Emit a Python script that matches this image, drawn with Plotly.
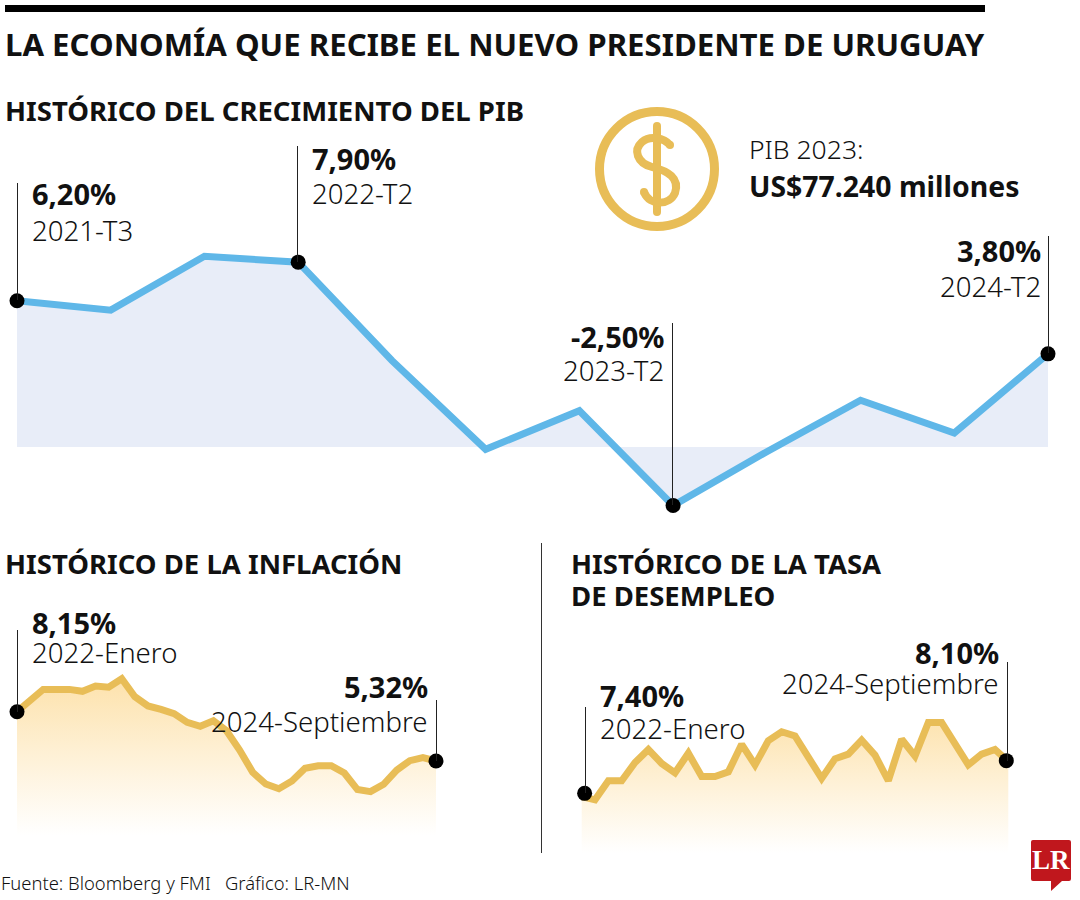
import plotly.graph_objects as go

W, H = 1080, 900
FONT = "Noto Sans"
BLUE = "#5fb7e8"
GOLD = "#e8bd57"
PIB_FILL = "#e8edf8"
INK = "#111111"
STEM = "#222222"

# ---- Data ----
pib_quarters = ["2021-T3", "2021-T4", "2022-T1", "2022-T2", "2022-T3", "2022-T4",
                "2023-T1", "2023-T2", "2023-T3", "2023-T4", "2024-T1", "2024-T2"]
pib_values = [6.25, 5.85, 8.15, 7.9, 3.7, -0.1, 1.55, -2.5, -0.2, 2.0, 0.6, 3.98]

inflation_values = [8.15, 8.82, 9.43, 9.43, 9.43, 9.32, 9.62, 9.56, 10.04, 9.01, 8.48,
                    8.28, 8.04, 7.54, 7.31, 7.63, 7.06, 5.95, 4.67, 4.0, 3.73, 4.17,
                    4.9, 5.05, 5.05, 4.63, 3.68, 3.56, 3.98, 4.8, 5.34, 5.51, 5.32]

unemployment_values = [7.33, 7.26, 7.67, 7.67, 8.06, 8.34, 8.04, 7.84, 8.26, 7.76, 7.76,
                       7.86, 8.45, 8.01, 8.53, 8.72, 8.63, 8.17, 7.72, 8.14, 8.24, 8.54,
                       8.22, 7.67, 8.56, 8.2, 8.92, 8.92, 8.46, 8.01, 8.24, 8.34, 8.08]

pib_callouts = [("6,20%", "2021-T3"), ("7,90%", "2022-T2"), ("-2,50%", "2023-T2"), ("3,80%", "2024-T2")]
inflation_callouts = [("8,15%", "2022-Enero"), ("5,32%", "2024-Septiembre")]
unemployment_callouts = [("7,40%", "2022-Enero"), ("8,10%", "2024-Septiembre")]


def fx(p):
    return p / W


def fy(p):
    return 1 - p / H


def panel_axes(px_left, px_right, idx0, idx1, px_y_ref, val_ref, px_per_unit, px_top, px_bottom):
    """Axis settings that put index idx0..idx1 at px_left..px_right across the whole page."""
    step = (px_right - px_left) / (idx1 - idx0)
    xr = [idx0 - px_left / step, idx0 + (W - px_left) / step]
    yr = [val_ref - (px_bottom - px_y_ref) / px_per_unit, val_ref + (px_y_ref - px_top) / px_per_unit]
    xa = dict(domain=[0, 1], range=xr, visible=False, fixedrange=True)
    ya = dict(domain=[fy(px_bottom), fy(px_top)], range=yr, visible=False, fixedrange=True)
    return xa, ya


def to_val(p, px_y_ref, val_ref, px_per_unit):
    return val_ref + (px_y_ref - p) / px_per_unit


GRAD = [[0, "rgba(253,228,178,0)"], [1, "rgba(253,226,172,1)"]]

fig = go.Figure()

# --- PIB panel
PIB_MAP = (447, 0.0, 23.4)
xa1, ya1 = panel_axes(17, 1048, 0, 11, *PIB_MAP, 130, 525)
fig.add_trace(go.Scatter(x=list(range(len(pib_values))), y=pib_values, mode="lines", fill="tozeroy",
                         fillcolor=PIB_FILL, line=dict(color=BLUE, width=7), xaxis="x", yaxis="y",
                         hoverinfo="skip"))
pib_idx = [pib_quarters.index(c[1]) for c in pib_callouts]
fig.add_trace(go.Scatter(x=pib_idx, y=[pib_values[i] for i in pib_idx], mode="markers",
                         marker=dict(color="#000000", size=15), cliponaxis=False, xaxis="x", yaxis="y",
                         hoverinfo="skip"))

# --- Inflation panel
INF_MAP = (711.7, 8.15, 17.42)
xa2, ya2 = panel_axes(17, 436, 0, 32, *INF_MAP, 600, 835)
fig.add_trace(go.Scatter(x=list(range(33)), y=inflation_values, mode="lines", fill="tozeroy",
                         fillgradient=dict(type="vertical", colorscale=GRAD,
                                           start=to_val(835, *INF_MAP), stop=to_val(680, *INF_MAP)),
                         line=dict(color=GOLD, width=7), xaxis="x2", yaxis="y2", hoverinfo="skip"))
fig.add_trace(go.Scatter(x=[0, 32], y=[inflation_values[0], inflation_values[32]], mode="markers",
                         marker=dict(color="#000000", size=15), cliponaxis=False, xaxis="x2", yaxis="y2",
                         hoverinfo="skip"))

# --- Unemployment panel
UNE_MAP = (760.67, 8.1, 46.67)
xa3, ya3 = panel_axes(581.7, 1008.3, 0, 32, *UNE_MAP, 640, 853)
fig.add_trace(go.Scatter(x=list(range(33)), y=unemployment_values, mode="lines", fill="tozeroy",
                         fillgradient=dict(type="vertical", colorscale=GRAD,
                                           start=to_val(853, *UNE_MAP), stop=to_val(715, *UNE_MAP)),
                         line=dict(color=GOLD, width=7), xaxis="x3", yaxis="y3", hoverinfo="skip"))
fig.add_trace(go.Scatter(x=[0.22, 31.85], y=[7.4, 8.1], mode="markers",
                         marker=dict(color="#000000", size=15), cliponaxis=False, xaxis="x3", yaxis="y3",
                         hoverinfo="skip"))

shapes = []
annotations = []


def text(s, x, y, size, bold=False, light=False, anchor="left", color=INK, family=FONT):
    dx = {"left": -2.5, "right": 2, "center": 0}[anchor]
    annotations.append(dict(text=s, x=fx(x + dx), y=fy(y - 1.5), xref="paper", yref="paper", xanchor=anchor,
                            yanchor="middle", showarrow=False, align=anchor,
                            font=dict(family=family, size=size, color=color,
                                      weight=700 if bold else (300 if light else 400))))


def line_px(x0, y0, x1, y1, color=STEM, width=1):
    shapes.append(dict(type="line", xref="paper", yref="paper", x0=fx(x0), x1=fx(x1), y0=fy(y0), y1=fy(y1),
                       line=dict(color=color, width=width)))


def dot_px(x, y, r, color):
    shapes.append(dict(type="circle", xref="paper", yref="paper", x0=fx(x - r), x1=fx(x + r), y0=fy(y + r),
                       y1=fy(y - r), fillcolor=color, line=dict(width=0)))


def path_px(segments):
    out = []
    for seg in segments:
        cmd = seg[0]
        pts = seg[1:]
        out.append(cmd + " ".join(f"{fx(a):.5f},{fy(b):.5f}" for a, b in pts))
    return " ".join(out)


# Headline furniture
shapes.append(dict(type="rect", xref="paper", yref="paper", x0=fx(5), x1=fx(985), y0=fy(12), y1=fy(5),
                   fillcolor="#000000", line=dict(width=0)))
text("LA ECONOMÍA QUE RECIBE EL NUEVO PRESIDENTE DE URUGUAY", 5, 46, 31.2, bold=True)
text("HISTÓRICO DEL CRECIMIENTO DEL PIB", 5, 112, 27.5, bold=True)
text("HISTÓRICO DE LA INFLACIÓN", 5, 565, 27.5, bold=True)
text("HISTÓRICO DE LA TASA", 571, 565, 27.5, bold=True)
text("DE DESEMPLEO", 571, 597, 27.5, bold=True)
line_px(541.5, 543, 541.5, 853, color="#333333", width=1)

# Callouts
VAL = 29
LAB = 27.6
text(pib_callouts[0][0], 32, 195, VAL, bold=True)
text(pib_callouts[0][1], 32, 231, LAB, light=True)
text(pib_callouts[1][0], 312, 160, VAL, bold=True)
text(pib_callouts[1][1], 312, 195, LAB, light=True)
text(pib_callouts[2][0], 664, 338, VAL, bold=True, anchor="right")
text(pib_callouts[2][1], 664, 372, LAB, light=True, anchor="right")
text(pib_callouts[3][0], 1041, 252, VAL, bold=True, anchor="right")
text(pib_callouts[3][1], 1041, 287, LAB, light=True, anchor="right")
text(inflation_callouts[0][0], 32, 624, VAL, bold=True)
text(inflation_callouts[0][1], 32, 653, LAB, light=True)
text(inflation_callouts[1][0], 428, 688, VAL, bold=True, anchor="right")
text(inflation_callouts[1][1], 428, 722, LAB, light=True, anchor="right")
text(unemployment_callouts[0][0], 600, 697, VAL, bold=True)
text(unemployment_callouts[0][1], 600, 729, LAB, light=True)
text(unemployment_callouts[1][0], 999, 654, VAL, bold=True, anchor="right")
text(unemployment_callouts[1][1], 999, 684, LAB, light=True, anchor="right")

for x, y0, y1 in [(17.5, 183, 300), (297.5, 146, 262), (672.5, 323, 505), (1048.5, 236, 353),
                  (17.5, 630, 712), (436.5, 700, 761), (585.5, 707, 793), (1007.5, 662, 761)]:
    line_px(x, y0, x, y1)

# PIB note
text("PIB 2023:", 749, 150, 26.5, light=True)
text("US$77.240 millones", 749, 187, 28.4, bold=True)

# Dollar icon
shapes.append(dict(type="circle", xref="paper", yref="paper", x0=fx(599.5), x1=fx(714.5), y0=fy(226.5), y1=fy(111.5),
                   line=dict(color=GOLD, width=9), fillcolor="rgba(0,0,0,0)"))
line_px(657, 126, 657, 212, color=GOLD, width=8)
dot_px(657, 126, 4, GOLD)
dot_px(657, 212, 4, GOLD)
shapes.append(dict(type="path", xref="paper", yref="paper", line=dict(color=GOLD, width=8),
                   path=path_px([("M", (670, 145)), ("C", (664, 138), (650, 135), (642, 142)),
                                 ("C", (633, 150), (637, 163), (652, 167)),
                                 ("C", (668, 171), (680, 178), (675, 193)),
                                 ("C", (670, 205), (650, 207), (644, 192))])))
dot_px(670, 145, 4, GOLD)
dot_px(644, 192, 4, GOLD)

# Footer
text("Fuente: Bloomberg y FMI   Gráfico: LR-MN", 1, 884, 18.4, light=True)

# LR logo
RED = "#c0171d"
shapes.append(dict(type="path", xref="paper", yref="paper", fillcolor=RED, line=dict(width=0),
                   path=path_px([("M", (1033, 840)), ("L", (1069, 840)), ("Q", (1071, 840), (1071, 842)),
                                 ("L", (1071, 879)), ("Q", (1071, 881), (1069, 881)), ("L", (1062, 881)),
                                 ("L", (1051, 891)), ("L", (1051, 881)), ("L", (1033, 881)),
                                 ("Q", (1031, 881), (1031, 879)), ("L", (1031, 842)),
                                 ("Q", (1031, 840), (1033, 840))]) + " Z"))
text("LR", 1051, 861, 27, bold=True, anchor="center", color="#ffffff", family="Liberation Serif")

fig.update_layout(width=W, height=H, margin=dict(l=0, r=0, t=0, b=0), autosize=False, showlegend=False,
                  paper_bgcolor="#ffffff", plot_bgcolor="rgba(0,0,0,0)",
                  xaxis=xa1, yaxis=ya1,
                  xaxis2={**xa2, "anchor": "y2"}, yaxis2={**ya2, "anchor": "x2"},
                  xaxis3={**xa3, "anchor": "y3"}, yaxis3={**ya3, "anchor": "x3"},
                  shapes=shapes, annotations=annotations)

fig.write_html("out.html", config={"displayModeBar": False},
               post_script="document.body.style.margin='0';document.body.style.overflow='hidden';")
